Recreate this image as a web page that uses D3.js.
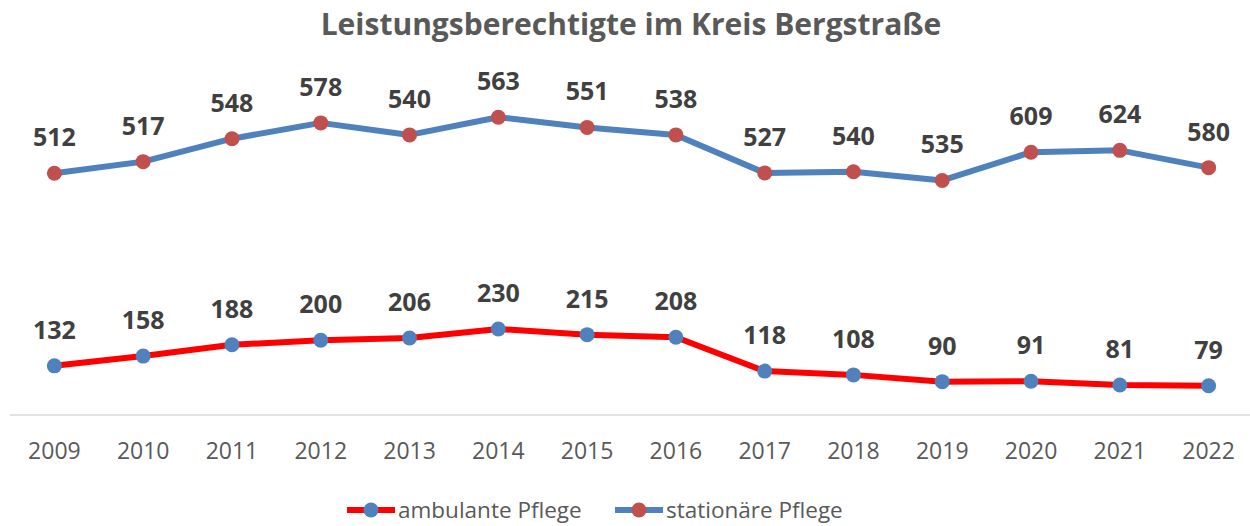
<!DOCTYPE html>
<html>
<head>
<meta charset="utf-8">
<script src="https://cdn.jsdelivr.net/npm/d3@7"></script>
<style>
  body { margin: 0; background: #fff; }
  svg { font-family: "Open Sans", "Noto Sans", sans-serif; }
</style>
</head>
<body>
<div id="chart"></div>
<script>
const years = ["2009", "2010", "2011", "2012", "2013", "2014", "2015", "2016", "2017", "2018", "2019", "2020", "2021", "2022"];
const ambulant = [132, 158, 188, 200, 206, 230, 215, 208, 118, 108, 90, 91, 81, 79];
const stationaer = [512, 517, 548, 578, 540, 563, 551, 538, 527, 540, 535, 609, 624, 580];
const seriesNames = ["ambulante Pflege", "stationäre Pflege"];

// stacked line chart: second series sits on top of the first
const stacked = stationaer.map((v, i) => v + ambulant[i]);

const svgWidth = 1250, svgHeight = 526;

const svg = d3.select("#chart")
  .append("svg")
  .attr("width", svgWidth)
  .attr("height", svgHeight);

svg.append("text")
  .attr("x", 631)
  .attr("y", 35)
  .attr("text-anchor", "middle")
  .attr("font-size", 30)
  .attr("font-weight", "bold")
  .attr("fill", "#595959")
  .text("Leistungsberechtigte im Kreis Bergstraße");

const x = d3.scaleBand()
  .domain(years)
  .range([10, 1253]);

const y = d3.scaleLinear()
  .domain([0, 900])
  .range([415.5, 77]);

const cx = d => x(d) + x.bandwidth() / 2;

// category axis
const axis = svg.append("g")
  .attr("transform", "translate(0, 415)")
  .call(d3.axisBottom(x).tickSize(0).tickPadding(28));
axis.select(".domain").attr("stroke", "#d9d9d9").attr("stroke-width", 1.5)
  .attr("d", "M10,0H1250");
axis.selectAll("text")
  .attr("font-size", 23)
  .attr("fill", "#595959")
  .attr("font-family", "'Open Sans', sans-serif");

const line = d3.line()
  .x((d, i) => cx(years[i]))
  .y(d => y(d));

const series = [
  { values: ambulant, plot: ambulant, stroke: "#ff0000", marker: "#4f81bd" },
  { values: stationaer, plot: stacked, stroke: "#4f81bd", marker: "#c0504d" }
];

series.forEach(s => {
  svg.append("path")
    .datum(s.plot)
    .attr("fill", "none")
    .attr("stroke", s.stroke)
    .attr("stroke-width", 6)
    .attr("stroke-linejoin", "round")
    .attr("d", line);

  svg.selectAll(null)
    .data(s.plot)
    .enter()
    .append("circle")
    .attr("cx", (d, i) => cx(years[i]))
    .attr("cy", d => y(d))
    .attr("r", 7.5)
    .attr("fill", s.marker);

  svg.selectAll(null)
    .data(s.values)
    .enter()
    .append("text")
    .attr("x", (d, i) => cx(years[i]))
    .attr("y", (d, i) => y(s.plot[i]) - 27)
    .attr("text-anchor", "middle")
    .attr("font-size", 25)
    .attr("font-weight", "bold")
    .attr("fill", "#404040")
    .text(d => d);
});

// legend
const legend = svg.append("g");
const legendX = [347, 615];
series.forEach((s, i) => {
  const g = legend.append("g").attr("transform", `translate(${legendX[i]}, 510)`);
  g.append("line")
    .attr("x1", 0).attr("x2", 48)
    .attr("stroke", s.stroke)
    .attr("stroke-width", 6);
  g.append("circle")
    .attr("cx", 24).attr("r", 7.5)
    .attr("fill", s.marker);
  g.append("text")
    .attr("x", 51)
    .attr("y", 8)
    .attr("font-size", 22.5)
    .attr("fill", "#595959")
    .text(seriesNames[i]);
});
</script>
</body>
</html>
